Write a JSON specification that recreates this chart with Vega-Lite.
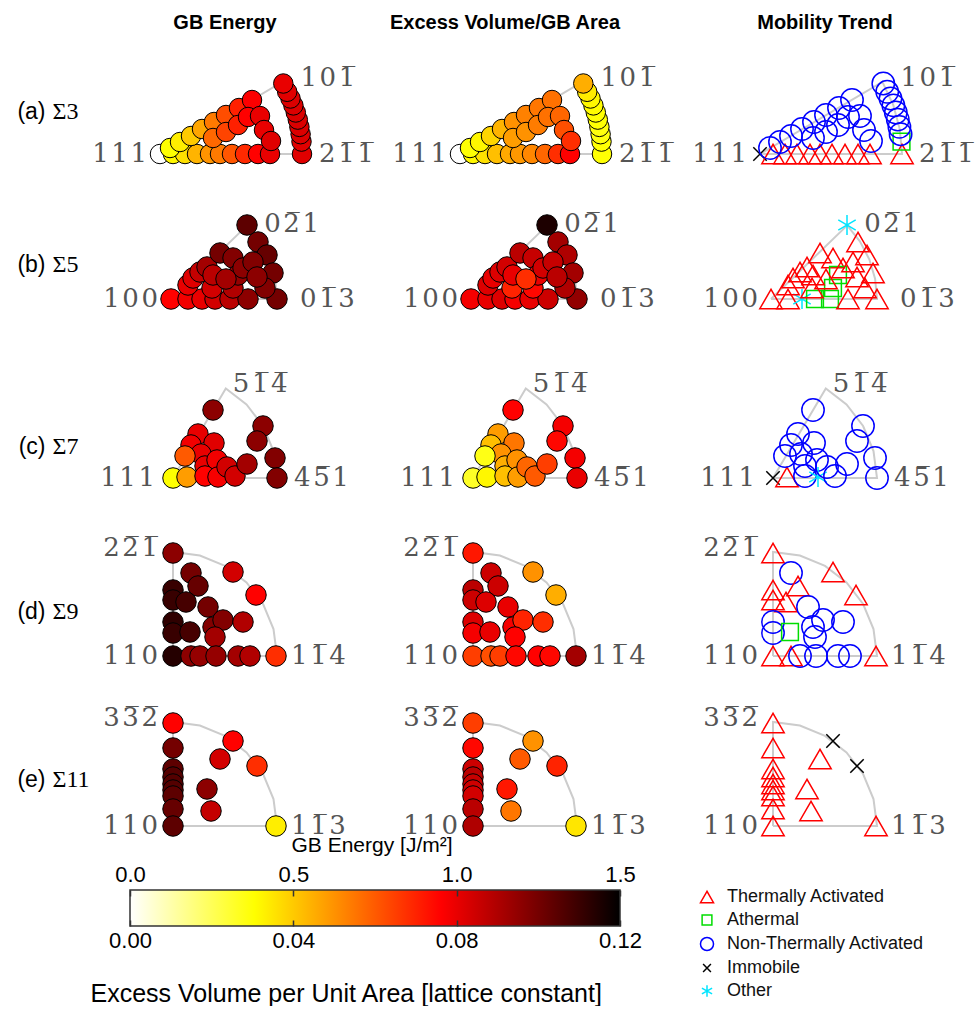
{
"$schema":"https://vega.github.io/schema/vega-lite/v6.json",
"padding":0,
"background":"white",
"config":{"view":{"stroke":null},"concat":{"spacing":0}},
"datasets":{
"zone":[
{"s":3,"i":0,"x":0,"y":0},{"s":3,"i":1,"x":142,"y":0},{"s":3,"i":2,"x":139.8,"y":24.7},{"s":3,"i":3,"x":133.4,"y":48.6},{"s":3,"i":4,"x":122.4,"y":72.1},{"s":3,"i":5,"x":0,"y":0},
{"s":5,"i":0,"x":0,"y":0},{"s":5,"i":1,"x":106,"y":0},{"s":5,"i":2,"x":104.1,"y":20.2},{"s":5,"i":3,"x":98.3,"y":39.7},{"s":5,"i":4,"x":88.9,"y":57.7},{"s":5,"i":5,"x":76.2,"y":73.6},{"s":5,"i":6,"x":0,"y":0},
{"s":7,"i":0,"x":0,"y":0},{"s":7,"i":1,"x":104,"y":0},{"s":7,"i":2,"x":100.5,"y":26.9},{"s":7,"i":3,"x":90.1,"y":52},{"s":7,"i":4,"x":73.5,"y":73.5},{"s":7,"i":5,"x":52.8,"y":89.6},{"s":7,"i":6,"x":0,"y":0},
{"s":9,"i":0,"x":0,"y":0},{"s":9,"i":1,"x":104,"y":0},{"s":9,"i":2,"x":100.5,"y":26.9},{"s":9,"i":3,"x":90.1,"y":52},{"s":9,"i":4,"x":73.5,"y":73.5},{"s":9,"i":5,"x":52,"y":90.1},{"s":9,"i":6,"x":26.9,"y":100.5},{"s":9,"i":7,"x":0,"y":104},{"s":9,"i":8,"x":0,"y":0},
{"s":11,"i":0,"x":0,"y":0},{"s":11,"i":1,"x":104,"y":0},{"s":11,"i":2,"x":100.5,"y":26.9},{"s":11,"i":3,"x":90.1,"y":52},{"s":11,"i":4,"x":73.5,"y":73.5},{"s":11,"i":5,"x":52,"y":90.1},{"s":11,"i":6,"x":26.9,"y":100.5},{"s":11,"i":7,"x":0,"y":104},{"s":11,"i":8,"x":0,"y":0}
],
"corners":[
{"s":3,"c":"l","x":0,"y":0,"t":"1\u200a1\u200a1"},{"s":3,"c":"r","x":142,"y":0,"t":"2\u200a1\u0305\u200a1\u0305"},{"s":3,"c":"t","x":122.4,"y":72.1,"t":"1\u200a0\u200a1\u0305"},
{"s":5,"c":"l","x":0,"y":0,"t":"1\u200a0\u200a0"},{"s":5,"c":"r","x":106,"y":0,"t":"0\u200a1\u0305\u200a3"},{"s":5,"c":"t","x":76.2,"y":73.6,"t":"0\u200a2\u0305\u200a1"},
{"s":7,"c":"l","x":0,"y":0,"t":"1\u200a1\u200a1"},{"s":7,"c":"r","x":104,"y":0,"t":"4\u200a5\u0305\u200a1"},{"s":7,"c":"t","x":52.8,"y":89.6,"t":"5\u200a1\u0305\u200a4\u0305"},
{"s":9,"c":"l","x":0,"y":0,"t":"1\u200a1\u200a0"},{"s":9,"c":"r","x":104,"y":0,"t":"1\u200a1\u0305\u200a4"},{"s":9,"c":"t","x":0,"y":104,"t":"2\u200a2\u0305\u200a1\u0305"},
{"s":11,"c":"l","x":0,"y":0,"t":"1\u200a1\u200a0"},{"s":11,"c":"r","x":104,"y":0,"t":"1\u200a1\u0305\u200a3"},{"s":11,"c":"t","x":0,"y":104,"t":"3\u200a3\u0305\u200a2\u0305"}
],
"pts":[
{"s":3,"x":0,"y":0,"E":0,"V":0,"M":"Immobile"},
{"s":3,"x":13,"y":0,"E":0.4,"V":0.032,"M":"Thermally Activated"},
{"s":3,"x":25,"y":0,"E":0.45,"V":0.036,"M":"Thermally Activated"},
{"s":3,"x":37,"y":0,"E":0.55,"V":0.042,"M":"Thermally Activated"},
{"s":3,"x":50,"y":0,"E":0.62,"V":0.046,"M":"Thermally Activated"},
{"s":3,"x":60,"y":0,"E":0.68,"V":0.049,"M":"Thermally Activated"},
{"s":3,"x":72,"y":0,"E":0.76,"V":0.052,"M":"Thermally Activated"},
{"s":3,"x":85,"y":0,"E":0.86,"V":0.058,"M":"Thermally Activated"},
{"s":3,"x":98,"y":0,"E":0.95,"V":0.068,"M":"Thermally Activated"},
{"s":3,"x":110,"y":0,"E":1.0,"V":0.076,"M":"Thermally Activated"},
{"s":3,"x":142,"y":0,"E":1.02,"V":0.03,"M":"Thermally Activated"},
{"s":3,"x":10,"y":6,"E":0.38,"V":0.03,"M":"Non-Thermally Activated"},
{"s":3,"x":20,"y":12,"E":0.42,"V":0.032,"M":"Non-Thermally Activated"},
{"s":3,"x":31,"y":18,"E":0.5,"V":0.038,"M":"Non-Thermally Activated"},
{"s":3,"x":42,"y":25,"E":0.58,"V":0.044,"M":"Non-Thermally Activated"},
{"s":3,"x":54,"y":32,"E":0.68,"V":0.05,"M":"Non-Thermally Activated"},
{"s":3,"x":66,"y":39,"E":0.78,"V":0.053,"M":"Non-Thermally Activated"},
{"s":3,"x":79,"y":46,"E":0.88,"V":0.055,"M":"Non-Thermally Activated"},
{"s":3,"x":92,"y":54,"E":0.96,"V":0.056,"M":"Non-Thermally Activated"},
{"s":3,"x":53,"y":16,"E":0.72,"V":0.048,"M":"Non-Thermally Activated"},
{"s":3,"x":66,"y":22,"E":0.8,"V":0.05,"M":"Non-Thermally Activated"},
{"s":3,"x":78,"y":29,"E":0.88,"V":0.054,"M":"Non-Thermally Activated"},
{"s":3,"x":88,"y":37,"E":0.95,"V":0.056,"M":"Non-Thermally Activated"},
{"s":3,"x":100,"y":38,"E":1.0,"V":0.058,"M":"Non-Thermally Activated"},
{"s":3,"x":104,"y":24,"E":1.0,"V":0.062,"M":"Non-Thermally Activated"},
{"s":3,"x":111,"y":13,"E":1.02,"V":0.068,"M":"Non-Thermally Activated"},
{"s":3,"x":141.5,"y":12.4,"E":1.02,"V":0.03,"M":"Athermal"},
{"s":3,"x":140.6,"y":19.8,"E":1.03,"V":0.029,"M":"Non-Thermally Activated"},
{"s":3,"x":139.4,"y":27.1,"E":1.03,"V":0.029,"M":"Non-Thermally Activated"},
{"s":3,"x":137.8,"y":34.4,"E":1.03,"V":0.03,"M":"Non-Thermally Activated"},
{"s":3,"x":135.8,"y":41.5,"E":1.03,"V":0.03,"M":"Non-Thermally Activated"},
{"s":3,"x":133.4,"y":48.6,"E":1.03,"V":0.031,"M":"Non-Thermally Activated"},
{"s":3,"x":130.5,"y":55.5,"E":1.03,"V":0.032,"M":"Non-Thermally Activated"},
{"s":3,"x":127.2,"y":62.2,"E":1.02,"V":0.034,"M":"Non-Thermally Activated"},
{"s":3,"x":123.3,"y":70.5,"E":1.0,"V":0.045,"M":"Non-Thermally Activated"},
{"s":5,"x":0,"y":0,"E":0.95,"V":0.078,"M":"Thermally Activated"},
{"s":5,"x":17,"y":0,"E":0.98,"V":0.08,"M":"Thermally Activated"},
{"s":5,"x":31,"y":0,"E":1.0,"V":0.082,"M":"Other"},
{"s":5,"x":44,"y":0,"E":1.05,"V":0.078,"M":"Athermal"},
{"s":5,"x":59,"y":0,"E":1.1,"V":0.08,"M":"Athermal"},
{"s":5,"x":77,"y":0,"E":1.2,"V":0.085,"M":"Thermally Activated"},
{"s":5,"x":106,"y":0,"E":1.25,"V":0.095,"M":"Thermally Activated"},
{"s":5,"x":17,"y":14,"E":1.0,"V":0.082,"M":"Thermally Activated"},
{"s":5,"x":22,"y":21,"E":1.02,"V":0.08,"M":"Thermally Activated"},
{"s":5,"x":29,"y":27,"E":1.08,"V":0.082,"M":"Thermally Activated"},
{"s":5,"x":36,"y":32,"E":1.15,"V":0.084,"M":"Thermally Activated"},
{"s":5,"x":49,"y":46,"E":1.25,"V":0.088,"M":"Thermally Activated"},
{"s":5,"x":62,"y":41,"E":1.22,"V":0.086,"M":"Thermally Activated"},
{"s":5,"x":76,"y":74,"E":1.3,"V":0.115,"M":"Other"},
{"s":5,"x":87,"y":57,"E":1.25,"V":0.092,"M":"Thermally Activated"},
{"s":5,"x":96,"y":44,"E":1.28,"V":0.09,"M":"Thermally Activated"},
{"s":5,"x":102,"y":26,"E":1.25,"V":0.092,"M":"Thermally Activated"},
{"s":5,"x":94,"y":11,"E":1.22,"V":0.09,"M":"Thermally Activated"},
{"s":5,"x":41,"y":11,"E":1.05,"V":0.07,"M":"Thermally Activated"},
{"s":5,"x":62,"y":11,"E":1.12,"V":0.075,"M":"Athermal"},
{"s":5,"x":67,"y":24,"E":1.18,"V":0.08,"M":"Athermal"},
{"s":5,"x":72,"y":31,"E":1.2,"V":0.084,"M":"Thermally Activated"},
{"s":5,"x":82,"y":37,"E":1.22,"V":0.086,"M":"Thermally Activated"},
{"s":5,"x":42,"y":24,"E":1.1,"V":0.08,"M":"Thermally Activated"},
{"s":5,"x":55,"y":20,"E":1.15,"V":0.068,"M":"Thermally Activated"},
{"s":5,"x":86,"y":22,"E":1.2,"V":0.088,"M":"Thermally Activated"},
{"s":7,"x":0,"y":0,"E":0.38,"V":0.026,"M":"Immobile"},
{"s":7,"x":14,"y":1,"E":0.6,"V":0.032,"M":"Thermally Activated"},
{"s":7,"x":40,"y":68,"E":1.2,"V":0.076,"M":"Non-Thermally Activated"},
{"s":7,"x":90,"y":52,"E":1.2,"V":0.078,"M":"Non-Thermally Activated"},
{"s":7,"x":84,"y":37,"E":1.2,"V":0.075,"M":"Non-Thermally Activated"},
{"s":7,"x":102,"y":20,"E":1.22,"V":0.078,"M":"Non-Thermally Activated"},
{"s":7,"x":104,"y":0,"E":1.22,"V":0.08,"M":"Non-Thermally Activated"},
{"s":7,"x":25,"y":44,"E":1.0,"V":0.048,"M":"Non-Thermally Activated"},
{"s":7,"x":18,"y":33,"E":0.98,"V":0.042,"M":"Non-Thermally Activated"},
{"s":7,"x":41,"y":35,"E":1.02,"V":0.055,"M":"Non-Thermally Activated"},
{"s":7,"x":28,"y":24,"E":1.0,"V":0.05,"M":"Non-Thermally Activated"},
{"s":7,"x":12,"y":22,"E":0.75,"V":0.028,"M":"Non-Thermally Activated"},
{"s":7,"x":32,"y":12,"E":1.0,"V":0.045,"M":"Non-Thermally Activated"},
{"s":7,"x":44,"y":18,"E":0.98,"V":0.05,"M":"Non-Thermally Activated"},
{"s":7,"x":32,"y":2,"E":0.95,"V":0.042,"M":"Non-Thermally Activated"},
{"s":7,"x":45,"y":1,"E":0.97,"V":0.048,"M":"Other"},
{"s":7,"x":54,"y":11,"E":1.05,"V":0.058,"M":"Non-Thermally Activated"},
{"s":7,"x":62,"y":2,"E":1.05,"V":0.06,"M":"Non-Thermally Activated"},
{"s":7,"x":74,"y":14,"E":1.15,"V":0.065,"M":"Non-Thermally Activated"},
{"s":9,"x":0,"y":103,"E":1.2,"V":0.072,"M":"Thermally Activated"},
{"s":9,"x":60,"y":84,"E":1.05,"V":0.05,"M":"Thermally Activated"},
{"s":9,"x":83,"y":61,"E":0.95,"V":0.045,"M":"Thermally Activated"},
{"s":9,"x":18,"y":83,"E":1.25,"V":0.085,"M":"Non-Thermally Activated"},
{"s":9,"x":25,"y":70,"E":1.28,"V":0.085,"M":"Thermally Activated"},
{"s":9,"x":0,"y":66,"E":1.38,"V":0.088,"M":"Thermally Activated"},
{"s":9,"x":0,"y":56,"E":1.38,"V":0.085,"M":"Thermally Activated"},
{"s":9,"x":13,"y":54,"E":1.35,"V":0.082,"M":"Thermally Activated"},
{"s":9,"x":35,"y":49,"E":1.25,"V":0.08,"M":"Non-Thermally Activated"},
{"s":9,"x":0,"y":34,"E":1.4,"V":0.082,"M":"Non-Thermally Activated"},
{"s":9,"x":0,"y":23,"E":1.38,"V":0.078,"M":"Non-Thermally Activated"},
{"s":9,"x":17,"y":24,"E":1.35,"V":0.08,"M":"Athermal"},
{"s":9,"x":40,"y":29,"E":1.22,"V":0.078,"M":"Non-Thermally Activated"},
{"s":9,"x":50,"y":36,"E":1.22,"V":0.07,"M":"Non-Thermally Activated"},
{"s":9,"x":42,"y":19,"E":1.15,"V":0.076,"M":"Non-Thermally Activated"},
{"s":9,"x":70,"y":34,"E":1.12,"V":0.068,"M":"Non-Thermally Activated"},
{"s":9,"x":0,"y":0,"E":1.42,"V":0.065,"M":"Thermally Activated"},
{"s":9,"x":18,"y":0,"E":1.2,"V":0.062,"M":"Thermally Activated"},
{"s":9,"x":27,"y":0,"E":1.18,"V":0.065,"M":"Non-Thermally Activated"},
{"s":9,"x":43,"y":0,"E":1.18,"V":0.075,"M":"Non-Thermally Activated"},
{"s":9,"x":65,"y":0,"E":1.15,"V":0.076,"M":"Non-Thermally Activated"},
{"s":9,"x":77,"y":0,"E":1.12,"V":0.075,"M":"Non-Thermally Activated"},
{"s":9,"x":103,"y":0,"E":0.85,"V":0.092,"M":"Thermally Activated"},
{"s":11,"x":0,"y":103,"E":0.95,"V":0.065,"M":"Thermally Activated"},
{"s":11,"x":0,"y":78,"E":1.25,"V":0.075,"M":"Thermally Activated"},
{"s":11,"x":0,"y":57,"E":1.3,"V":0.085,"M":"Thermally Activated"},
{"s":11,"x":0,"y":49,"E":1.32,"V":0.088,"M":"Thermally Activated"},
{"s":11,"x":0,"y":42,"E":1.32,"V":0.086,"M":"Thermally Activated"},
{"s":11,"x":0,"y":36,"E":1.32,"V":0.085,"M":"Thermally Activated"},
{"s":11,"x":0,"y":30,"E":1.3,"V":0.084,"M":"Thermally Activated"},
{"s":11,"x":0,"y":17,"E":1.28,"V":0.088,"M":"Thermally Activated"},
{"s":11,"x":0,"y":0,"E":1.3,"V":0.09,"M":"Thermally Activated"},
{"s":11,"x":60,"y":85,"E":0.95,"V":0.05,"M":"Immobile"},
{"s":11,"x":47,"y":67,"E":1.05,"V":0.06,"M":"Thermally Activated"},
{"s":11,"x":84,"y":60,"E":0.85,"V":0.07,"M":"Immobile"},
{"s":11,"x":34,"y":37,"E":1.2,"V":0.072,"M":"Thermally Activated"},
{"s":11,"x":38,"y":15,"E":1.08,"V":0.055,"M":"Thermally Activated"},
{"s":11,"x":103,"y":0,"E":0.42,"V":0.035,"M":"Thermally Activated"}
]
},
"vconcat":[
{"width":975,"height":50,"layer":[
 {"data":{"values":[{"t":"GB Energy"}]},"mark":{"type":"text","font":"Liberation Sans","fontWeight":"bold","fontSize":20,"dy":-2,"color":"#000000"},"encoding":{"x":{"datum":52,"type":"quantitative","scale":{"domain":[-173,802],"nice":false,"zero":false},"axis":null},"text":{"field":"t"}}},
 {"data":{"values":[{"t":"Excess Volume/GB Area"}]},"mark":{"type":"text","font":"Liberation Sans","fontWeight":"bold","fontSize":20,"dy":-2,"color":"#000000"},"encoding":{"x":{"datum":32,"type":"quantitative","scale":{"domain":[-473,502],"nice":false,"zero":false},"axis":null},"text":{"field":"t"}}},
 {"data":{"values":[{"t":"Mobility Trend"}]},"mark":{"type":"text","font":"Liberation Sans","fontWeight":"bold","fontSize":20,"dy":-2,"color":"#000000"},"encoding":{"x":{"datum":52,"type":"quantitative","scale":{"domain":[-773,202],"nice":false,"zero":false},"axis":null},"text":{"field":"t"}}}
],"resolve":{"scale":{"x":"independent"}}},

{"width":975,"height":135,"layer":[
 {"data":{"values":[{"a":"(a)"}]},"mark":{"type":"text","align":"right","dx":-2,"font":"Liberation Sans","fontSize":23,"color":"#000000"},"encoding":{"x":{"datum":0,"type":"quantitative","scale":{"domain":[-47.5,927.5],"nice":false,"zero":false},"axis":null},"y":{"datum":42,"type":"quantitative","scale":{"domain":[-31,104],"nice":false,"zero":false},"axis":null},"text":{"field":"a"}}},
 {"data":{"values":[{"b":"Σ3"}]},"mark":{"type":"text","align":"left","dx":5,"font":"Liberation Serif","fontSize":24,"color":"#000000"},"encoding":{"x":{"datum":0,"type":"quantitative","scale":{"domain":[-47.5,927.5],"nice":false,"zero":false},"axis":null},"y":{"datum":42,"type":"quantitative","axis":null},"text":{"field":"b"}}},
 {"data":{"name":"zone"},"transform":[{"filter":"datum.s==3"}],"mark":{"type":"line","color":"#cccccc","strokeWidth":2},"encoding":{"x":{"field":"x","type":"quantitative","scale":{"domain":[-160,815],"nice":false,"zero":false},"axis":null},"y":{"field":"y","type":"quantitative","axis":null},"order":{"field":"i","type":"quantitative"}}},
 {"data":{"name":"corners"},"transform":[{"filter":"datum.s==3 && datum.c=='l'"}],"mark":{"type":"text","align":"right","baseline":"middle","dx":-13,"font":"DejaVu Serif","fontSize":26,"color":"#555555"},"encoding":{"x":{"field":"x","type":"quantitative","scale":{"domain":[-160,815],"nice":false,"zero":false},"axis":null},"y":{"field":"y","type":"quantitative","axis":null},"text":{"field":"t"}}},
 {"data":{"name":"corners"},"transform":[{"filter":"datum.s==3 && datum.c=='r'"}],"mark":{"type":"text","align":"left","baseline":"middle","dx":17,"font":"DejaVu Serif","fontSize":26,"color":"#555555"},"encoding":{"x":{"field":"x","type":"quantitative","scale":{"domain":[-160,815],"nice":false,"zero":false},"axis":null},"y":{"field":"y","type":"quantitative","axis":null},"text":{"field":"t"}}},
 {"data":{"name":"corners"},"transform":[{"filter":"datum.s==3 && datum.c=='t'"}],"mark":{"type":"text","align":"left","baseline":"middle","dx":18,"dy":-4,"font":"DejaVu Serif","fontSize":26,"color":"#555555"},"encoding":{"x":{"field":"x","type":"quantitative","scale":{"domain":[-160,815],"nice":false,"zero":false},"axis":null},"y":{"field":"y","type":"quantitative","axis":null},"text":{"field":"t"}}},
 {"data":{"name":"pts"},"transform":[{"filter":"datum.s==3"}],"mark":{"type":"point","shape":"circle","filled":true,"opacity":1,"stroke":"#000000","strokeWidth":1,"size":380},"encoding":{"x":{"field":"x","type":"quantitative","scale":{"domain":[-160,815],"nice":false,"zero":false},"axis":null},"y":{"field":"y","type":"quantitative","axis":null},"fill":{"field":"E","type":"quantitative","scale":{"domain":[0,0.381,0.9525,1.5],"range":["#ffffff","#ffff00","#ff0000","#000000"],"interpolate":"rgb"},"legend":null}}},
 {"data":{"name":"zone"},"transform":[{"filter":"datum.s==3"}],"mark":{"type":"line","color":"#cccccc","strokeWidth":2},"encoding":{"x":{"field":"x","type":"quantitative","scale":{"domain":[-460,515],"nice":false,"zero":false},"axis":null},"y":{"field":"y","type":"quantitative","axis":null},"order":{"field":"i","type":"quantitative"}}},
 {"data":{"name":"corners"},"transform":[{"filter":"datum.s==3 && datum.c=='l'"}],"mark":{"type":"text","align":"right","baseline":"middle","dx":-13,"font":"DejaVu Serif","fontSize":26,"color":"#555555"},"encoding":{"x":{"field":"x","type":"quantitative","scale":{"domain":[-460,515],"nice":false,"zero":false},"axis":null},"y":{"field":"y","type":"quantitative","axis":null},"text":{"field":"t"}}},
 {"data":{"name":"corners"},"transform":[{"filter":"datum.s==3 && datum.c=='r'"}],"mark":{"type":"text","align":"left","baseline":"middle","dx":17,"font":"DejaVu Serif","fontSize":26,"color":"#555555"},"encoding":{"x":{"field":"x","type":"quantitative","scale":{"domain":[-460,515],"nice":false,"zero":false},"axis":null},"y":{"field":"y","type":"quantitative","axis":null},"text":{"field":"t"}}},
 {"data":{"name":"corners"},"transform":[{"filter":"datum.s==3 && datum.c=='t'"}],"mark":{"type":"text","align":"left","baseline":"middle","dx":18,"dy":-4,"font":"DejaVu Serif","fontSize":26,"color":"#555555"},"encoding":{"x":{"field":"x","type":"quantitative","scale":{"domain":[-460,515],"nice":false,"zero":false},"axis":null},"y":{"field":"y","type":"quantitative","axis":null},"text":{"field":"t"}}},
 {"data":{"name":"pts"},"transform":[{"filter":"datum.s==3"}],"mark":{"type":"point","shape":"circle","filled":true,"opacity":1,"stroke":"#000000","strokeWidth":1,"size":380},"encoding":{"x":{"field":"x","type":"quantitative","scale":{"domain":[-460,515],"nice":false,"zero":false},"axis":null},"y":{"field":"y","type":"quantitative","axis":null},"fill":{"field":"V","type":"quantitative","scale":{"domain":[0,0.0305,0.0762,0.12],"range":["#ffffff","#ffff00","#ff0000","#000000"],"interpolate":"rgb"},"legend":null}}},
 {"data":{"name":"zone"},"transform":[{"filter":"datum.s==3"}],"mark":{"type":"line","color":"#cccccc","strokeWidth":2},"encoding":{"x":{"field":"x","type":"quantitative","scale":{"domain":[-760,215],"nice":false,"zero":false},"axis":null},"y":{"field":"y","type":"quantitative","axis":null},"order":{"field":"i","type":"quantitative"}}},
 {"data":{"name":"corners"},"transform":[{"filter":"datum.s==3 && datum.c=='l'"}],"mark":{"type":"text","align":"right","baseline":"middle","dx":-13,"font":"DejaVu Serif","fontSize":26,"color":"#555555"},"encoding":{"x":{"field":"x","type":"quantitative","scale":{"domain":[-760,215],"nice":false,"zero":false},"axis":null},"y":{"field":"y","type":"quantitative","axis":null},"text":{"field":"t"}}},
 {"data":{"name":"corners"},"transform":[{"filter":"datum.s==3 && datum.c=='r'"}],"mark":{"type":"text","align":"left","baseline":"middle","dx":17,"font":"DejaVu Serif","fontSize":26,"color":"#555555"},"encoding":{"x":{"field":"x","type":"quantitative","scale":{"domain":[-760,215],"nice":false,"zero":false},"axis":null},"y":{"field":"y","type":"quantitative","axis":null},"text":{"field":"t"}}},
 {"data":{"name":"corners"},"transform":[{"filter":"datum.s==3 && datum.c=='t'"}],"mark":{"type":"text","align":"left","baseline":"middle","dx":18,"dy":-4,"font":"DejaVu Serif","fontSize":26,"color":"#555555"},"encoding":{"x":{"field":"x","type":"quantitative","scale":{"domain":[-760,215],"nice":false,"zero":false},"axis":null},"y":{"field":"y","type":"quantitative","axis":null},"text":{"field":"t"}}},
 {"data":{"name":"pts"},"transform":[{"filter":"datum.s==3"}],"mark":{"type":"point","filled":false,"opacity":1,"strokeWidth":1.5,"size":500},"encoding":{"x":{"field":"x","type":"quantitative","scale":{"domain":[-760,215],"nice":false,"zero":false},"axis":null},"y":{"field":"y","type":"quantitative","axis":null},
  "stroke":{"field":"M","type":"nominal","scale":{"domain":["Thermally Activated","Athermal","Non-Thermally Activated","Immobile","Other"],"range":["#ff0000","#00dd00","#0000ff","#000000","#00e5ff"]},"legend":{"orient":"none","legendX":698,"legendY":888,"title":null,"labelFont":"Liberation Sans","labelFontSize":18,"labelColor":"#111111","labelLimit":320,"symbolSize":170,"symbolStrokeWidth":1.5,"rowPadding":5,"labelOffset":11,"padding":0}},
  "shape":{"field":"M","type":"nominal","scale":{"domain":["Thermally Activated","Athermal","Non-Thermally Activated","Immobile","Other"],"range":["triangle-up","M-0.75,-0.75L0.75,-0.75L0.75,0.75L-0.75,0.75Z","circle","M-0.6,-0.6L0.6,0.6M-0.6,0.6L0.6,-0.6","M0,-0.9L0,0.9M-0.78,-0.45L0.78,0.45M-0.78,0.45L0.78,-0.45"]},"legend":{"orient":"none","legendX":698,"legendY":888,"title":null,"labelFont":"Liberation Sans","labelFontSize":18,"labelColor":"#111111","labelLimit":320,"symbolSize":170,"symbolStrokeWidth":1.5,"rowPadding":5,"labelOffset":11,"padding":0}}}}
],"resolve":{"scale":{"x":"independent","fill":"independent"}}},

{"width":975,"height":160,"layer":[
 {"data":{"values":[{"a":"(b)"}]},"mark":{"type":"text","align":"right","dx":-2,"font":"Liberation Sans","fontSize":23,"color":"#000000"},"encoding":{"x":{"datum":0,"type":"quantitative","scale":{"domain":[-47.5,927.5],"nice":false,"zero":false},"axis":null},"y":{"datum":34,"type":"quantitative","scale":{"domain":[-46,114],"nice":false,"zero":false},"axis":null},"text":{"field":"a"}}},
 {"data":{"values":[{"b":"Σ5"}]},"mark":{"type":"text","align":"left","dx":5,"font":"Liberation Serif","fontSize":24,"color":"#000000"},"encoding":{"x":{"datum":0,"type":"quantitative","scale":{"domain":[-47.5,927.5],"nice":false,"zero":false},"axis":null},"y":{"datum":34,"type":"quantitative","axis":null},"text":{"field":"b"}}},
 {"data":{"name":"zone"},"transform":[{"filter":"datum.s==5"}],"mark":{"type":"line","color":"#cccccc","strokeWidth":2},"encoding":{"x":{"field":"x","type":"quantitative","scale":{"domain":[-171,804],"nice":false,"zero":false},"axis":null},"y":{"field":"y","type":"quantitative","axis":null},"order":{"field":"i","type":"quantitative"}}},
 {"data":{"name":"corners"},"transform":[{"filter":"datum.s==5 && datum.c=='l'"}],"mark":{"type":"text","align":"right","baseline":"middle","dx":-13,"font":"DejaVu Serif","fontSize":26,"color":"#555555"},"encoding":{"x":{"field":"x","type":"quantitative","scale":{"domain":[-171,804],"nice":false,"zero":false},"axis":null},"y":{"field":"y","type":"quantitative","axis":null},"text":{"field":"t"}}},
 {"data":{"name":"corners"},"transform":[{"filter":"datum.s==5 && datum.c=='r'"}],"mark":{"type":"text","align":"left","baseline":"middle","dx":23,"font":"DejaVu Serif","fontSize":26,"color":"#555555"},"encoding":{"x":{"field":"x","type":"quantitative","scale":{"domain":[-171,804],"nice":false,"zero":false},"axis":null},"y":{"field":"y","type":"quantitative","axis":null},"text":{"field":"t"}}},
 {"data":{"name":"corners"},"transform":[{"filter":"datum.s==5 && datum.c=='t'"}],"mark":{"type":"text","align":"left","baseline":"middle","dx":17,"dy":-1,"font":"DejaVu Serif","fontSize":26,"color":"#555555"},"encoding":{"x":{"field":"x","type":"quantitative","scale":{"domain":[-171,804],"nice":false,"zero":false},"axis":null},"y":{"field":"y","type":"quantitative","axis":null},"text":{"field":"t"}}},
 {"data":{"name":"pts"},"transform":[{"filter":"datum.s==5"}],"mark":{"type":"point","shape":"circle","filled":true,"opacity":1,"stroke":"#000000","strokeWidth":1,"size":420},"encoding":{"x":{"field":"x","type":"quantitative","scale":{"domain":[-171,804],"nice":false,"zero":false},"axis":null},"y":{"field":"y","type":"quantitative","axis":null},"fill":{"field":"E","type":"quantitative","scale":{"domain":[0,0.381,0.9525,1.5],"range":["#ffffff","#ffff00","#ff0000","#000000"],"interpolate":"rgb"},"legend":null}}},
 {"data":{"name":"zone"},"transform":[{"filter":"datum.s==5"}],"mark":{"type":"line","color":"#cccccc","strokeWidth":2},"encoding":{"x":{"field":"x","type":"quantitative","scale":{"domain":[-471,504],"nice":false,"zero":false},"axis":null},"y":{"field":"y","type":"quantitative","axis":null},"order":{"field":"i","type":"quantitative"}}},
 {"data":{"name":"corners"},"transform":[{"filter":"datum.s==5 && datum.c=='l'"}],"mark":{"type":"text","align":"right","baseline":"middle","dx":-13,"font":"DejaVu Serif","fontSize":26,"color":"#555555"},"encoding":{"x":{"field":"x","type":"quantitative","scale":{"domain":[-471,504],"nice":false,"zero":false},"axis":null},"y":{"field":"y","type":"quantitative","axis":null},"text":{"field":"t"}}},
 {"data":{"name":"corners"},"transform":[{"filter":"datum.s==5 && datum.c=='r'"}],"mark":{"type":"text","align":"left","baseline":"middle","dx":23,"font":"DejaVu Serif","fontSize":26,"color":"#555555"},"encoding":{"x":{"field":"x","type":"quantitative","scale":{"domain":[-471,504],"nice":false,"zero":false},"axis":null},"y":{"field":"y","type":"quantitative","axis":null},"text":{"field":"t"}}},
 {"data":{"name":"corners"},"transform":[{"filter":"datum.s==5 && datum.c=='t'"}],"mark":{"type":"text","align":"left","baseline":"middle","dx":17,"dy":-1,"font":"DejaVu Serif","fontSize":26,"color":"#555555"},"encoding":{"x":{"field":"x","type":"quantitative","scale":{"domain":[-471,504],"nice":false,"zero":false},"axis":null},"y":{"field":"y","type":"quantitative","axis":null},"text":{"field":"t"}}},
 {"data":{"name":"pts"},"transform":[{"filter":"datum.s==5"}],"mark":{"type":"point","shape":"circle","filled":true,"opacity":1,"stroke":"#000000","strokeWidth":1,"size":420},"encoding":{"x":{"field":"x","type":"quantitative","scale":{"domain":[-471,504],"nice":false,"zero":false},"axis":null},"y":{"field":"y","type":"quantitative","axis":null},"fill":{"field":"V","type":"quantitative","scale":{"domain":[0,0.0305,0.0762,0.12],"range":["#ffffff","#ffff00","#ff0000","#000000"],"interpolate":"rgb"},"legend":null}}},
 {"data":{"name":"zone"},"transform":[{"filter":"datum.s==5"}],"mark":{"type":"line","color":"#cccccc","strokeWidth":2},"encoding":{"x":{"field":"x","type":"quantitative","scale":{"domain":[-771,204],"nice":false,"zero":false},"axis":null},"y":{"field":"y","type":"quantitative","axis":null},"order":{"field":"i","type":"quantitative"}}},
 {"data":{"name":"corners"},"transform":[{"filter":"datum.s==5 && datum.c=='l'"}],"mark":{"type":"text","align":"right","baseline":"middle","dx":-13,"font":"DejaVu Serif","fontSize":26,"color":"#555555"},"encoding":{"x":{"field":"x","type":"quantitative","scale":{"domain":[-771,204],"nice":false,"zero":false},"axis":null},"y":{"field":"y","type":"quantitative","axis":null},"text":{"field":"t"}}},
 {"data":{"name":"corners"},"transform":[{"filter":"datum.s==5 && datum.c=='r'"}],"mark":{"type":"text","align":"left","baseline":"middle","dx":23,"font":"DejaVu Serif","fontSize":26,"color":"#555555"},"encoding":{"x":{"field":"x","type":"quantitative","scale":{"domain":[-771,204],"nice":false,"zero":false},"axis":null},"y":{"field":"y","type":"quantitative","axis":null},"text":{"field":"t"}}},
 {"data":{"name":"corners"},"transform":[{"filter":"datum.s==5 && datum.c=='t'"}],"mark":{"type":"text","align":"left","baseline":"middle","dx":17,"dy":-1,"font":"DejaVu Serif","fontSize":26,"color":"#555555"},"encoding":{"x":{"field":"x","type":"quantitative","scale":{"domain":[-771,204],"nice":false,"zero":false},"axis":null},"y":{"field":"y","type":"quantitative","axis":null},"text":{"field":"t"}}},
 {"data":{"name":"pts"},"transform":[{"filter":"datum.s==5"}],"mark":{"type":"point","filled":false,"opacity":1,"strokeWidth":1.5,"size":500},"encoding":{"x":{"field":"x","type":"quantitative","scale":{"domain":[-771,204],"nice":false,"zero":false},"axis":null},"y":{"field":"y","type":"quantitative","axis":null},
  "stroke":{"field":"M","type":"nominal","scale":{"domain":["Thermally Activated","Athermal","Non-Thermally Activated","Immobile","Other"],"range":["#ff0000","#00dd00","#0000ff","#000000","#00e5ff"]},"legend":{"orient":"none","legendX":698,"legendY":888,"title":null,"labelFont":"Liberation Sans","labelFontSize":18,"labelColor":"#111111","labelLimit":320,"symbolSize":170,"symbolStrokeWidth":1.5,"rowPadding":5,"labelOffset":11,"padding":0}},
  "shape":{"field":"M","type":"nominal","scale":{"domain":["Thermally Activated","Athermal","Non-Thermally Activated","Immobile","Other"],"range":["triangle-up","M-0.75,-0.75L0.75,-0.75L0.75,0.75L-0.75,0.75Z","circle","M-0.6,-0.6L0.6,0.6M-0.6,0.6L0.6,-0.6","M0,-0.9L0,0.9M-0.78,-0.45L0.78,0.45M-0.78,0.45L0.78,-0.45"]},"legend":{"orient":"none","legendX":698,"legendY":888,"title":null,"labelFont":"Liberation Sans","labelFontSize":18,"labelColor":"#111111","labelLimit":320,"symbolSize":170,"symbolStrokeWidth":1.5,"rowPadding":5,"labelOffset":11,"padding":0}}}}
],"resolve":{"scale":{"x":"independent","fill":"independent"}}},

{"width":975,"height":175,"layer":[
 {"data":{"values":[{"a":"(c)"}]},"mark":{"type":"text","align":"right","dx":-2,"font":"Liberation Sans","fontSize":23,"color":"#000000"},"encoding":{"x":{"datum":0,"type":"quantitative","scale":{"domain":[-47.5,927.5],"nice":false,"zero":false},"axis":null},"y":{"datum":31,"type":"quantitative","scale":{"domain":[-42,133],"nice":false,"zero":false},"axis":null},"text":{"field":"a"}}},
 {"data":{"values":[{"b":"Σ7"}]},"mark":{"type":"text","align":"left","dx":5,"font":"Liberation Serif","fontSize":24,"color":"#000000"},"encoding":{"x":{"datum":0,"type":"quantitative","scale":{"domain":[-47.5,927.5],"nice":false,"zero":false},"axis":null},"y":{"datum":31,"type":"quantitative","axis":null},"text":{"field":"b"}}},
 {"data":{"name":"zone"},"transform":[{"filter":"datum.s==7"}],"mark":{"type":"line","color":"#cccccc","strokeWidth":2},"encoding":{"x":{"field":"x","type":"quantitative","scale":{"domain":[-173,802],"nice":false,"zero":false},"axis":null},"y":{"field":"y","type":"quantitative","axis":null},"order":{"field":"i","type":"quantitative"}}},
 {"data":{"name":"corners"},"transform":[{"filter":"datum.s==7 && datum.c=='l'"}],"mark":{"type":"text","align":"right","baseline":"middle","dx":-18,"font":"DejaVu Serif","fontSize":26,"color":"#555555"},"encoding":{"x":{"field":"x","type":"quantitative","scale":{"domain":[-173,802],"nice":false,"zero":false},"axis":null},"y":{"field":"y","type":"quantitative","axis":null},"text":{"field":"t"}}},
 {"data":{"name":"corners"},"transform":[{"filter":"datum.s==7 && datum.c=='r'"}],"mark":{"type":"text","align":"left","baseline":"middle","dx":17,"font":"DejaVu Serif","fontSize":26,"color":"#555555"},"encoding":{"x":{"field":"x","type":"quantitative","scale":{"domain":[-173,802],"nice":false,"zero":false},"axis":null},"y":{"field":"y","type":"quantitative","axis":null},"text":{"field":"t"}}},
 {"data":{"name":"corners"},"transform":[{"filter":"datum.s==7 && datum.c=='t'"}],"mark":{"type":"text","align":"left","baseline":"middle","dx":7,"dy":-4,"font":"DejaVu Serif","fontSize":26,"color":"#555555"},"encoding":{"x":{"field":"x","type":"quantitative","scale":{"domain":[-173,802],"nice":false,"zero":false},"axis":null},"y":{"field":"y","type":"quantitative","axis":null},"text":{"field":"t"}}},
 {"data":{"name":"pts"},"transform":[{"filter":"datum.s==7"}],"mark":{"type":"point","shape":"circle","filled":true,"opacity":1,"stroke":"#000000","strokeWidth":1,"size":420},"encoding":{"x":{"field":"x","type":"quantitative","scale":{"domain":[-173,802],"nice":false,"zero":false},"axis":null},"y":{"field":"y","type":"quantitative","axis":null},"fill":{"field":"E","type":"quantitative","scale":{"domain":[0,0.381,0.9525,1.5],"range":["#ffffff","#ffff00","#ff0000","#000000"],"interpolate":"rgb"},"legend":null}}},
 {"data":{"name":"zone"},"transform":[{"filter":"datum.s==7"}],"mark":{"type":"line","color":"#cccccc","strokeWidth":2},"encoding":{"x":{"field":"x","type":"quantitative","scale":{"domain":[-473,502],"nice":false,"zero":false},"axis":null},"y":{"field":"y","type":"quantitative","axis":null},"order":{"field":"i","type":"quantitative"}}},
 {"data":{"name":"corners"},"transform":[{"filter":"datum.s==7 && datum.c=='l'"}],"mark":{"type":"text","align":"right","baseline":"middle","dx":-18,"font":"DejaVu Serif","fontSize":26,"color":"#555555"},"encoding":{"x":{"field":"x","type":"quantitative","scale":{"domain":[-473,502],"nice":false,"zero":false},"axis":null},"y":{"field":"y","type":"quantitative","axis":null},"text":{"field":"t"}}},
 {"data":{"name":"corners"},"transform":[{"filter":"datum.s==7 && datum.c=='r'"}],"mark":{"type":"text","align":"left","baseline":"middle","dx":17,"font":"DejaVu Serif","fontSize":26,"color":"#555555"},"encoding":{"x":{"field":"x","type":"quantitative","scale":{"domain":[-473,502],"nice":false,"zero":false},"axis":null},"y":{"field":"y","type":"quantitative","axis":null},"text":{"field":"t"}}},
 {"data":{"name":"corners"},"transform":[{"filter":"datum.s==7 && datum.c=='t'"}],"mark":{"type":"text","align":"left","baseline":"middle","dx":7,"dy":-4,"font":"DejaVu Serif","fontSize":26,"color":"#555555"},"encoding":{"x":{"field":"x","type":"quantitative","scale":{"domain":[-473,502],"nice":false,"zero":false},"axis":null},"y":{"field":"y","type":"quantitative","axis":null},"text":{"field":"t"}}},
 {"data":{"name":"pts"},"transform":[{"filter":"datum.s==7"}],"mark":{"type":"point","shape":"circle","filled":true,"opacity":1,"stroke":"#000000","strokeWidth":1,"size":420},"encoding":{"x":{"field":"x","type":"quantitative","scale":{"domain":[-473,502],"nice":false,"zero":false},"axis":null},"y":{"field":"y","type":"quantitative","axis":null},"fill":{"field":"V","type":"quantitative","scale":{"domain":[0,0.0305,0.0762,0.12],"range":["#ffffff","#ffff00","#ff0000","#000000"],"interpolate":"rgb"},"legend":null}}},
 {"data":{"name":"zone"},"transform":[{"filter":"datum.s==7"}],"mark":{"type":"line","color":"#cccccc","strokeWidth":2},"encoding":{"x":{"field":"x","type":"quantitative","scale":{"domain":[-773,202],"nice":false,"zero":false},"axis":null},"y":{"field":"y","type":"quantitative","axis":null},"order":{"field":"i","type":"quantitative"}}},
 {"data":{"name":"corners"},"transform":[{"filter":"datum.s==7 && datum.c=='l'"}],"mark":{"type":"text","align":"right","baseline":"middle","dx":-18,"font":"DejaVu Serif","fontSize":26,"color":"#555555"},"encoding":{"x":{"field":"x","type":"quantitative","scale":{"domain":[-773,202],"nice":false,"zero":false},"axis":null},"y":{"field":"y","type":"quantitative","axis":null},"text":{"field":"t"}}},
 {"data":{"name":"corners"},"transform":[{"filter":"datum.s==7 && datum.c=='r'"}],"mark":{"type":"text","align":"left","baseline":"middle","dx":17,"font":"DejaVu Serif","fontSize":26,"color":"#555555"},"encoding":{"x":{"field":"x","type":"quantitative","scale":{"domain":[-773,202],"nice":false,"zero":false},"axis":null},"y":{"field":"y","type":"quantitative","axis":null},"text":{"field":"t"}}},
 {"data":{"name":"corners"},"transform":[{"filter":"datum.s==7 && datum.c=='t'"}],"mark":{"type":"text","align":"left","baseline":"middle","dx":7,"dy":-4,"font":"DejaVu Serif","fontSize":26,"color":"#555555"},"encoding":{"x":{"field":"x","type":"quantitative","scale":{"domain":[-773,202],"nice":false,"zero":false},"axis":null},"y":{"field":"y","type":"quantitative","axis":null},"text":{"field":"t"}}},
 {"data":{"name":"pts"},"transform":[{"filter":"datum.s==7"}],"mark":{"type":"point","filled":false,"opacity":1,"strokeWidth":1.5,"size":500},"encoding":{"x":{"field":"x","type":"quantitative","scale":{"domain":[-773,202],"nice":false,"zero":false},"axis":null},"y":{"field":"y","type":"quantitative","axis":null},
  "stroke":{"field":"M","type":"nominal","scale":{"domain":["Thermally Activated","Athermal","Non-Thermally Activated","Immobile","Other"],"range":["#ff0000","#00dd00","#0000ff","#000000","#00e5ff"]},"legend":{"orient":"none","legendX":698,"legendY":888,"title":null,"labelFont":"Liberation Sans","labelFontSize":18,"labelColor":"#111111","labelLimit":320,"symbolSize":170,"symbolStrokeWidth":1.5,"rowPadding":5,"labelOffset":11,"padding":0}},
  "shape":{"field":"M","type":"nominal","scale":{"domain":["Thermally Activated","Athermal","Non-Thermally Activated","Immobile","Other"],"range":["triangle-up","M-0.75,-0.75L0.75,-0.75L0.75,0.75L-0.75,0.75Z","circle","M-0.6,-0.6L0.6,0.6M-0.6,0.6L0.6,-0.6","M0,-0.9L0,0.9M-0.78,-0.45L0.78,0.45M-0.78,0.45L0.78,-0.45"]},"legend":{"orient":"none","legendX":698,"legendY":888,"title":null,"labelFont":"Liberation Sans","labelFontSize":18,"labelColor":"#111111","labelLimit":320,"symbolSize":170,"symbolStrokeWidth":1.5,"rowPadding":5,"labelOffset":11,"padding":0}}}}
],"resolve":{"scale":{"x":"independent","fill":"independent"}}},

{"width":975,"height":175,"layer":[
 {"data":{"values":[{"a":"(d)"}]},"mark":{"type":"text","align":"right","dx":-2,"font":"Liberation Sans","fontSize":23,"color":"#000000"},"encoding":{"x":{"datum":0,"type":"quantitative","scale":{"domain":[-47.5,927.5],"nice":false,"zero":false},"axis":null},"y":{"datum":44,"type":"quantitative","scale":{"domain":[-39,136],"nice":false,"zero":false},"axis":null},"text":{"field":"a"}}},
 {"data":{"values":[{"b":"Σ9"}]},"mark":{"type":"text","align":"left","dx":5,"font":"Liberation Serif","fontSize":24,"color":"#000000"},"encoding":{"x":{"datum":0,"type":"quantitative","scale":{"domain":[-47.5,927.5],"nice":false,"zero":false},"axis":null},"y":{"datum":44,"type":"quantitative","axis":null},"text":{"field":"b"}}},
 {"data":{"name":"zone"},"transform":[{"filter":"datum.s==9"}],"mark":{"type":"line","color":"#cccccc","strokeWidth":2},"encoding":{"x":{"field":"x","type":"quantitative","scale":{"domain":[-173,802],"nice":false,"zero":false},"axis":null},"y":{"field":"y","type":"quantitative","axis":null},"order":{"field":"i","type":"quantitative"}}},
 {"data":{"name":"corners"},"transform":[{"filter":"datum.s==9 && datum.c=='l'"}],"mark":{"type":"text","align":"right","baseline":"middle","dx":-15,"font":"DejaVu Serif","fontSize":26,"color":"#555555"},"encoding":{"x":{"field":"x","type":"quantitative","scale":{"domain":[-173,802],"nice":false,"zero":false},"axis":null},"y":{"field":"y","type":"quantitative","axis":null},"text":{"field":"t"}}},
 {"data":{"name":"corners"},"transform":[{"filter":"datum.s==9 && datum.c=='r'"}],"mark":{"type":"text","align":"left","baseline":"middle","dx":14,"font":"DejaVu Serif","fontSize":26,"color":"#555555"},"encoding":{"x":{"field":"x","type":"quantitative","scale":{"domain":[-173,802],"nice":false,"zero":false},"axis":null},"y":{"field":"y","type":"quantitative","axis":null},"text":{"field":"t"}}},
 {"data":{"name":"corners"},"transform":[{"filter":"datum.s==9 && datum.c=='t'"}],"mark":{"type":"text","align":"right","baseline":"middle","dx":-15,"dy":-4,"font":"DejaVu Serif","fontSize":26,"color":"#555555"},"encoding":{"x":{"field":"x","type":"quantitative","scale":{"domain":[-173,802],"nice":false,"zero":false},"axis":null},"y":{"field":"y","type":"quantitative","axis":null},"text":{"field":"t"}}},
 {"data":{"name":"pts"},"transform":[{"filter":"datum.s==9"}],"mark":{"type":"point","shape":"circle","filled":true,"opacity":1,"stroke":"#000000","strokeWidth":1,"size":420},"encoding":{"x":{"field":"x","type":"quantitative","scale":{"domain":[-173,802],"nice":false,"zero":false},"axis":null},"y":{"field":"y","type":"quantitative","axis":null},"fill":{"field":"E","type":"quantitative","scale":{"domain":[0,0.381,0.9525,1.5],"range":["#ffffff","#ffff00","#ff0000","#000000"],"interpolate":"rgb"},"legend":null}}},
 {"data":{"name":"zone"},"transform":[{"filter":"datum.s==9"}],"mark":{"type":"line","color":"#cccccc","strokeWidth":2},"encoding":{"x":{"field":"x","type":"quantitative","scale":{"domain":[-473,502],"nice":false,"zero":false},"axis":null},"y":{"field":"y","type":"quantitative","axis":null},"order":{"field":"i","type":"quantitative"}}},
 {"data":{"name":"corners"},"transform":[{"filter":"datum.s==9 && datum.c=='l'"}],"mark":{"type":"text","align":"right","baseline":"middle","dx":-15,"font":"DejaVu Serif","fontSize":26,"color":"#555555"},"encoding":{"x":{"field":"x","type":"quantitative","scale":{"domain":[-473,502],"nice":false,"zero":false},"axis":null},"y":{"field":"y","type":"quantitative","axis":null},"text":{"field":"t"}}},
 {"data":{"name":"corners"},"transform":[{"filter":"datum.s==9 && datum.c=='r'"}],"mark":{"type":"text","align":"left","baseline":"middle","dx":14,"font":"DejaVu Serif","fontSize":26,"color":"#555555"},"encoding":{"x":{"field":"x","type":"quantitative","scale":{"domain":[-473,502],"nice":false,"zero":false},"axis":null},"y":{"field":"y","type":"quantitative","axis":null},"text":{"field":"t"}}},
 {"data":{"name":"corners"},"transform":[{"filter":"datum.s==9 && datum.c=='t'"}],"mark":{"type":"text","align":"right","baseline":"middle","dx":-15,"dy":-4,"font":"DejaVu Serif","fontSize":26,"color":"#555555"},"encoding":{"x":{"field":"x","type":"quantitative","scale":{"domain":[-473,502],"nice":false,"zero":false},"axis":null},"y":{"field":"y","type":"quantitative","axis":null},"text":{"field":"t"}}},
 {"data":{"name":"pts"},"transform":[{"filter":"datum.s==9"}],"mark":{"type":"point","shape":"circle","filled":true,"opacity":1,"stroke":"#000000","strokeWidth":1,"size":420},"encoding":{"x":{"field":"x","type":"quantitative","scale":{"domain":[-473,502],"nice":false,"zero":false},"axis":null},"y":{"field":"y","type":"quantitative","axis":null},"fill":{"field":"V","type":"quantitative","scale":{"domain":[0,0.0305,0.0762,0.12],"range":["#ffffff","#ffff00","#ff0000","#000000"],"interpolate":"rgb"},"legend":null}}},
 {"data":{"name":"zone"},"transform":[{"filter":"datum.s==9"}],"mark":{"type":"line","color":"#cccccc","strokeWidth":2},"encoding":{"x":{"field":"x","type":"quantitative","scale":{"domain":[-773,202],"nice":false,"zero":false},"axis":null},"y":{"field":"y","type":"quantitative","axis":null},"order":{"field":"i","type":"quantitative"}}},
 {"data":{"name":"corners"},"transform":[{"filter":"datum.s==9 && datum.c=='l'"}],"mark":{"type":"text","align":"right","baseline":"middle","dx":-15,"font":"DejaVu Serif","fontSize":26,"color":"#555555"},"encoding":{"x":{"field":"x","type":"quantitative","scale":{"domain":[-773,202],"nice":false,"zero":false},"axis":null},"y":{"field":"y","type":"quantitative","axis":null},"text":{"field":"t"}}},
 {"data":{"name":"corners"},"transform":[{"filter":"datum.s==9 && datum.c=='r'"}],"mark":{"type":"text","align":"left","baseline":"middle","dx":14,"font":"DejaVu Serif","fontSize":26,"color":"#555555"},"encoding":{"x":{"field":"x","type":"quantitative","scale":{"domain":[-773,202],"nice":false,"zero":false},"axis":null},"y":{"field":"y","type":"quantitative","axis":null},"text":{"field":"t"}}},
 {"data":{"name":"corners"},"transform":[{"filter":"datum.s==9 && datum.c=='t'"}],"mark":{"type":"text","align":"right","baseline":"middle","dx":-15,"dy":-4,"font":"DejaVu Serif","fontSize":26,"color":"#555555"},"encoding":{"x":{"field":"x","type":"quantitative","scale":{"domain":[-773,202],"nice":false,"zero":false},"axis":null},"y":{"field":"y","type":"quantitative","axis":null},"text":{"field":"t"}}},
 {"data":{"name":"pts"},"transform":[{"filter":"datum.s==9"}],"mark":{"type":"point","filled":false,"opacity":1,"strokeWidth":1.5,"size":500},"encoding":{"x":{"field":"x","type":"quantitative","scale":{"domain":[-773,202],"nice":false,"zero":false},"axis":null},"y":{"field":"y","type":"quantitative","axis":null},
  "stroke":{"field":"M","type":"nominal","scale":{"domain":["Thermally Activated","Athermal","Non-Thermally Activated","Immobile","Other"],"range":["#ff0000","#00dd00","#0000ff","#000000","#00e5ff"]},"legend":{"orient":"none","legendX":698,"legendY":888,"title":null,"labelFont":"Liberation Sans","labelFontSize":18,"labelColor":"#111111","labelLimit":320,"symbolSize":170,"symbolStrokeWidth":1.5,"rowPadding":5,"labelOffset":11,"padding":0}},
  "shape":{"field":"M","type":"nominal","scale":{"domain":["Thermally Activated","Athermal","Non-Thermally Activated","Immobile","Other"],"range":["triangle-up","M-0.75,-0.75L0.75,-0.75L0.75,0.75L-0.75,0.75Z","circle","M-0.6,-0.6L0.6,0.6M-0.6,0.6L0.6,-0.6","M0,-0.9L0,0.9M-0.78,-0.45L0.78,0.45M-0.78,0.45L0.78,-0.45"]},"legend":{"orient":"none","legendX":698,"legendY":888,"title":null,"labelFont":"Liberation Sans","labelFontSize":18,"labelColor":"#111111","labelLimit":320,"symbolSize":170,"symbolStrokeWidth":1.5,"rowPadding":5,"labelOffset":11,"padding":0}}}}
],"resolve":{"scale":{"x":"independent","fill":"independent"}}},

{"width":975,"height":195,"layer":[
 {"data":{"values":[{"a":"(e)"}]},"mark":{"type":"text","align":"right","dx":-2,"font":"Liberation Sans","fontSize":23,"color":"#000000"},"encoding":{"x":{"datum":0,"type":"quantitative","scale":{"domain":[-47.5,927.5],"nice":false,"zero":false},"axis":null},"y":{"datum":46,"type":"quantitative","scale":{"domain":[-64,131],"nice":false,"zero":false},"axis":null},"text":{"field":"a"}}},
 {"data":{"values":[{"b":"Σ11"}]},"mark":{"type":"text","align":"left","dx":5,"font":"Liberation Serif","fontSize":24,"color":"#000000"},"encoding":{"x":{"datum":0,"type":"quantitative","scale":{"domain":[-47.5,927.5],"nice":false,"zero":false},"axis":null},"y":{"datum":46,"type":"quantitative","axis":null},"text":{"field":"b"}}},
 {"data":{"name":"zone"},"transform":[{"filter":"datum.s==11"}],"mark":{"type":"line","color":"#cccccc","strokeWidth":2},"encoding":{"x":{"field":"x","type":"quantitative","scale":{"domain":[-173,802],"nice":false,"zero":false},"axis":null},"y":{"field":"y","type":"quantitative","axis":null},"order":{"field":"i","type":"quantitative"}}},
 {"data":{"name":"corners"},"transform":[{"filter":"datum.s==11 && datum.c=='l'"}],"mark":{"type":"text","align":"right","baseline":"middle","dx":-15,"font":"DejaVu Serif","fontSize":26,"color":"#555555"},"encoding":{"x":{"field":"x","type":"quantitative","scale":{"domain":[-173,802],"nice":false,"zero":false},"axis":null},"y":{"field":"y","type":"quantitative","axis":null},"text":{"field":"t"}}},
 {"data":{"name":"corners"},"transform":[{"filter":"datum.s==11 && datum.c=='r'"}],"mark":{"type":"text","align":"left","baseline":"middle","dx":14,"font":"DejaVu Serif","fontSize":26,"color":"#555555"},"encoding":{"x":{"field":"x","type":"quantitative","scale":{"domain":[-173,802],"nice":false,"zero":false},"axis":null},"y":{"field":"y","type":"quantitative","axis":null},"text":{"field":"t"}}},
 {"data":{"name":"corners"},"transform":[{"filter":"datum.s==11 && datum.c=='t'"}],"mark":{"type":"text","align":"right","baseline":"middle","dx":-15,"dy":-4,"font":"DejaVu Serif","fontSize":26,"color":"#555555"},"encoding":{"x":{"field":"x","type":"quantitative","scale":{"domain":[-173,802],"nice":false,"zero":false},"axis":null},"y":{"field":"y","type":"quantitative","axis":null},"text":{"field":"t"}}},
 {"data":{"name":"pts"},"transform":[{"filter":"datum.s==11"}],"mark":{"type":"point","shape":"circle","filled":true,"opacity":1,"stroke":"#000000","strokeWidth":1,"size":420},"encoding":{"x":{"field":"x","type":"quantitative","scale":{"domain":[-173,802],"nice":false,"zero":false},"axis":null},"y":{"field":"y","type":"quantitative","axis":null},"fill":{"field":"E","type":"quantitative","scale":{"domain":[0,0.381,0.9525,1.5],"range":["#ffffff","#ffff00","#ff0000","#000000"],"interpolate":"rgb"},"legend":null}}},
 {"data":{"name":"zone"},"transform":[{"filter":"datum.s==11"}],"mark":{"type":"line","color":"#cccccc","strokeWidth":2},"encoding":{"x":{"field":"x","type":"quantitative","scale":{"domain":[-473,502],"nice":false,"zero":false},"axis":null},"y":{"field":"y","type":"quantitative","axis":null},"order":{"field":"i","type":"quantitative"}}},
 {"data":{"name":"corners"},"transform":[{"filter":"datum.s==11 && datum.c=='l'"}],"mark":{"type":"text","align":"right","baseline":"middle","dx":-15,"font":"DejaVu Serif","fontSize":26,"color":"#555555"},"encoding":{"x":{"field":"x","type":"quantitative","scale":{"domain":[-473,502],"nice":false,"zero":false},"axis":null},"y":{"field":"y","type":"quantitative","axis":null},"text":{"field":"t"}}},
 {"data":{"name":"corners"},"transform":[{"filter":"datum.s==11 && datum.c=='r'"}],"mark":{"type":"text","align":"left","baseline":"middle","dx":14,"font":"DejaVu Serif","fontSize":26,"color":"#555555"},"encoding":{"x":{"field":"x","type":"quantitative","scale":{"domain":[-473,502],"nice":false,"zero":false},"axis":null},"y":{"field":"y","type":"quantitative","axis":null},"text":{"field":"t"}}},
 {"data":{"name":"corners"},"transform":[{"filter":"datum.s==11 && datum.c=='t'"}],"mark":{"type":"text","align":"right","baseline":"middle","dx":-15,"dy":-4,"font":"DejaVu Serif","fontSize":26,"color":"#555555"},"encoding":{"x":{"field":"x","type":"quantitative","scale":{"domain":[-473,502],"nice":false,"zero":false},"axis":null},"y":{"field":"y","type":"quantitative","axis":null},"text":{"field":"t"}}},
 {"data":{"name":"pts"},"transform":[{"filter":"datum.s==11"}],"mark":{"type":"point","shape":"circle","filled":true,"opacity":1,"stroke":"#000000","strokeWidth":1,"size":420},"encoding":{"x":{"field":"x","type":"quantitative","scale":{"domain":[-473,502],"nice":false,"zero":false},"axis":null},"y":{"field":"y","type":"quantitative","axis":null},"fill":{"field":"V","type":"quantitative","scale":{"domain":[0,0.0305,0.0762,0.12],"range":["#ffffff","#ffff00","#ff0000","#000000"],"interpolate":"rgb"},"legend":null}}},
 {"data":{"name":"zone"},"transform":[{"filter":"datum.s==11"}],"mark":{"type":"line","color":"#cccccc","strokeWidth":2},"encoding":{"x":{"field":"x","type":"quantitative","scale":{"domain":[-773,202],"nice":false,"zero":false},"axis":null},"y":{"field":"y","type":"quantitative","axis":null},"order":{"field":"i","type":"quantitative"}}},
 {"data":{"name":"corners"},"transform":[{"filter":"datum.s==11 && datum.c=='l'"}],"mark":{"type":"text","align":"right","baseline":"middle","dx":-15,"font":"DejaVu Serif","fontSize":26,"color":"#555555"},"encoding":{"x":{"field":"x","type":"quantitative","scale":{"domain":[-773,202],"nice":false,"zero":false},"axis":null},"y":{"field":"y","type":"quantitative","axis":null},"text":{"field":"t"}}},
 {"data":{"name":"corners"},"transform":[{"filter":"datum.s==11 && datum.c=='r'"}],"mark":{"type":"text","align":"left","baseline":"middle","dx":14,"font":"DejaVu Serif","fontSize":26,"color":"#555555"},"encoding":{"x":{"field":"x","type":"quantitative","scale":{"domain":[-773,202],"nice":false,"zero":false},"axis":null},"y":{"field":"y","type":"quantitative","axis":null},"text":{"field":"t"}}},
 {"data":{"name":"corners"},"transform":[{"filter":"datum.s==11 && datum.c=='t'"}],"mark":{"type":"text","align":"right","baseline":"middle","dx":-15,"dy":-4,"font":"DejaVu Serif","fontSize":26,"color":"#555555"},"encoding":{"x":{"field":"x","type":"quantitative","scale":{"domain":[-773,202],"nice":false,"zero":false},"axis":null},"y":{"field":"y","type":"quantitative","axis":null},"text":{"field":"t"}}},
 {"data":{"name":"pts"},"transform":[{"filter":"datum.s==11"}],"mark":{"type":"point","filled":false,"opacity":1,"strokeWidth":1.5,"size":500},"encoding":{"x":{"field":"x","type":"quantitative","scale":{"domain":[-773,202],"nice":false,"zero":false},"axis":null},"y":{"field":"y","type":"quantitative","axis":null},
  "stroke":{"field":"M","type":"nominal","scale":{"domain":["Thermally Activated","Athermal","Non-Thermally Activated","Immobile","Other"],"range":["#ff0000","#00dd00","#0000ff","#000000","#00e5ff"]},"legend":{"orient":"none","legendX":698,"legendY":888,"title":null,"labelFont":"Liberation Sans","labelFontSize":18,"labelColor":"#111111","labelLimit":320,"symbolSize":170,"symbolStrokeWidth":1.5,"rowPadding":5,"labelOffset":11,"padding":0}},
  "shape":{"field":"M","type":"nominal","scale":{"domain":["Thermally Activated","Athermal","Non-Thermally Activated","Immobile","Other"],"range":["triangle-up","M-0.75,-0.75L0.75,-0.75L0.75,0.75L-0.75,0.75Z","circle","M-0.6,-0.6L0.6,0.6M-0.6,0.6L0.6,-0.6","M0,-0.9L0,0.9M-0.78,-0.45L0.78,0.45M-0.78,0.45L0.78,-0.45"]},"legend":{"orient":"none","legendX":698,"legendY":888,"title":null,"labelFont":"Liberation Sans","labelFontSize":18,"labelColor":"#111111","labelLimit":320,"symbolSize":170,"symbolStrokeWidth":1.5,"rowPadding":5,"labelOffset":11,"padding":0}}}}
],"resolve":{"scale":{"x":"independent","fill":"independent"}}},

{"width":620,"height":36,"data":{"values":[{"v0":0,"v1":0.12,"e0":0,"e1":1.5,"y0":0,"y1":1}]},"layer":[
 {"mark":{"type":"rect","fill":{"gradient":"linear","x1":0,"y1":0,"x2":1,"y2":0,"stops":[{"offset":0,"color":"#ffffff"},{"offset":0.254,"color":"#ffff00"},{"offset":0.635,"color":"#ff0000"},{"offset":1,"color":"#000000"}]},"stroke":"#333333","strokeWidth":1.5},
  "encoding":{"x":{"field":"v0","type":"quantitative","scale":{"domain":[-0.031837,0.12],"nice":false,"zero":false},"axis":{"orient":"bottom","values":[0,0.04,0.08,0.12],"format":".2f","domain":false,"grid":false,"ticks":true,"tickSize":-6,"tickColor":"#333333","tickWidth":1.5,"labelFont":"Liberation Sans","labelFontSize":22,"labelColor":"#000000","labelPadding":10,"labelFlush":false,"labelOverlap":false,"labelBound":false,"title":"Excess Volume per Unit Area [lattice constant]","titleFont":"Liberation Sans","titleFontSize":25,"titleFontWeight":"normal","titleColor":"#000000","titlePadding":30,"titleAnchor":"start","titleX":90,"zindex":1}},"x2":{"field":"v1"},
   "y":{"field":"y0","type":"quantitative","scale":{"domain":[0,1],"nice":false,"zero":false},"axis":null},"y2":{"field":"y1"}}},
 {"mark":{"type":"rect","opacity":0},
  "encoding":{"x":{"field":"e0","type":"quantitative","scale":{"domain":[-0.397959,1.5],"nice":false,"zero":false},"axis":{"orient":"top","values":[0,0.5,1,1.5],"format":".1f","domain":false,"grid":false,"ticks":true,"tickSize":-6,"tickColor":"#333333","tickWidth":1.5,"labelFont":"Liberation Sans","labelFontSize":22,"labelColor":"#000000","labelPadding":10,"labelFlush":false,"labelOverlap":false,"labelBound":false,"title":"GB Energy [J/m²]","titleFont":"Liberation Sans","titleFontSize":21,"titleFontWeight":"normal","titleColor":"#000000","titlePadding":8,"titleAnchor":"start","titleX":291,"zindex":1}},"x2":{"field":"e1"},
   "y":{"field":"y0","type":"quantitative","axis":null},"y2":{"field":"y1"}}}
 ],"resolve":{"scale":{"x":"independent"},"axis":{"x":"independent"}}}
],
"spacing":0,
"bounds":"flush",
"resolve":{"scale":{"fill":"independent"}}
}
